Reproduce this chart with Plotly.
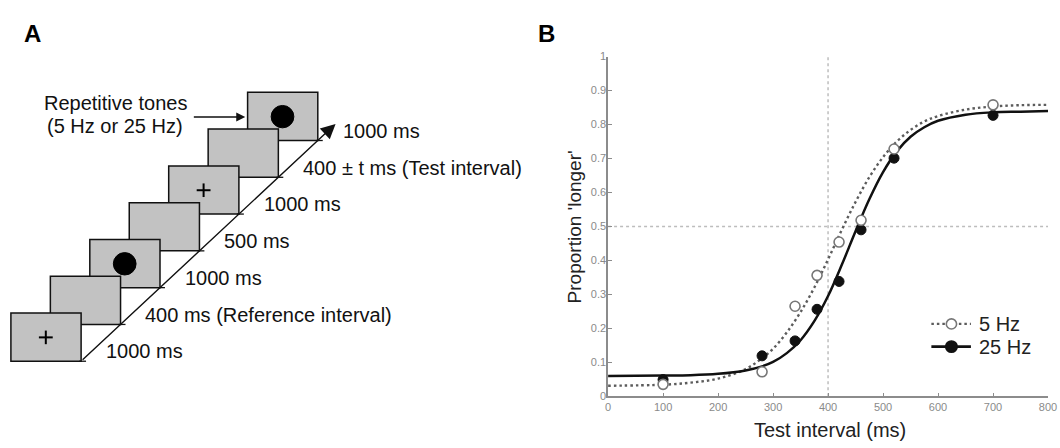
import plotly.graph_objects as go

W, H = 1060, 448
FONT = "Liberation Sans, Arial, sans-serif"

# ---------------- Panel B data ----------------
test_ms = [100, 280, 340, 380, 420, 460, 520, 700]
p_5hz = [0.035, 0.072, 0.265, 0.356, 0.454, 0.518, 0.728, 0.858]
p_25hz = [0.049, 0.119, 0.163, 0.256, 0.338, 0.490, 0.701, 0.827]

fit_ms = [0, 100, 150, 200, 250, 280, 300, 325, 350, 375, 400, 425, 450,
          475, 500, 525, 550, 575, 600, 650, 700, 750, 800]
fit_5hz = [0.031, 0.034, 0.040, 0.052, 0.080, 0.112, 0.140, 0.188, 0.248,
           0.320, 0.403, 0.490, 0.572, 0.645, 0.704, 0.750, 0.784, 0.809,
           0.825, 0.844, 0.853, 0.857, 0.858]
fit_25hz = [0.060, 0.061, 0.062, 0.066, 0.076, 0.088, 0.101, 0.127, 0.165,
            0.221, 0.295, 0.387, 0.486, 0.580, 0.660, 0.721, 0.764, 0.792,
            0.811, 0.829, 0.836, 0.838, 0.840]

ref_interval = 400
ref_prop = 0.5
x_ticks = [0, 100, 200, 300, 400, 500, 600, 700, 800]
y_ticks = [0, 0.1, 0.2, 0.3, 0.4, 0.5, 0.6, 0.7, 0.8, 0.9, 1]
y_tick_text = ["0", "0.1", "0.2", "0.3", "0.4", "0.5", "0.6", "0.7", "0.8", "0.9", "1"]
series_names = ["5 Hz", "25 Hz"]

# ---------------- Panel A content ----------------
durations = ["1000 ms", "400 ms (Reference interval)", "1000 ms", "500 ms",
             "1000 ms", "400 \u00b1 t ms (Test interval)", "1000 ms"]
screen_content = ["cross", "", "dot", "", "cross", "", "dot"]
tone_note = ["Repetitive tones", "(5 Hz or 25 Hz)"]


def px(x):
    return x / W


def py(y):
    return 1 - y / H


DOTTED = "2.5px,3px"
DOT_COLOR = "#5c5c5c"

fig = go.Figure()

# ---- Panel B traces ----
fig.add_trace(go.Scatter(x=fit_ms, y=fit_5hz, mode="lines", line_shape="spline",
                         line=dict(color=DOT_COLOR, width=2.4, dash=DOTTED),
                         showlegend=False, hoverinfo="skip"))
fig.add_trace(go.Scatter(x=fit_ms, y=fit_25hz, mode="lines", line_shape="spline",
                         line=dict(color="#111111", width=2.5),
                         showlegend=False, hoverinfo="skip"))
fig.add_trace(go.Scatter(x=test_ms, y=p_25hz, mode="markers", name=series_names[1],
                         marker=dict(size=10, color="#111111",
                                     line=dict(color="#111111", width=1)),
                         showlegend=False))
fig.add_trace(go.Scatter(x=test_ms, y=p_5hz, mode="markers", name=series_names[0],
                         marker=dict(size=10, color="white",
                                     line=dict(color="#777777", width=1.6)),
                         showlegend=False))

# anchor trace for the schematic (pixel) axes
fig.add_trace(go.Scatter(x=[None], y=[None], xaxis="x2", yaxis="y2",
                         showlegend=False, hoverinfo="skip"))

shapes = []
annotations = []

# reference lines
shapes.append(dict(type="line", xref="x", yref="y", x0=ref_interval, x1=ref_interval,
                   y0=0, y1=1, layer="below",
                   line=dict(color="#bdbdbd", width=1.5, dash="dot")))
shapes.append(dict(type="line", xref="x", yref="y", x0=0, x1=800,
                   y0=ref_prop, y1=ref_prop, layer="below",
                   line=dict(color="#bdbdbd", width=1.5, dash="dot")))

# ---- Panel A schematic (pixel coordinates on x2/y2) ----
left0, bottom0 = 8.0, 365.0
step_x, step_y = 39.9, 37.8
bw, bh = 71.0, 49.5
n = len(durations)
for i in reversed(range(n)):
    l = left0 + step_x * i
    b = bottom0 - step_y * i
    t = b - bh
    r = l + bw
    shapes.append(dict(type="rect", xref="x2", yref="y2", x0=l, x1=r, y0=t, y1=b,
                       fillcolor="#c2c2c2", line=dict(color="#111111", width=1.5),
                       layer="above"))
    cx, cy = l + 35.3, t + 25
    if screen_content[i] == "dot":
        shapes.append(dict(type="circle", xref="x2", yref="y2",
                           x0=cx - 11.5, x1=cx + 11.5, y0=cy - 11.5, y1=cy + 11.5,
                           fillcolor="black", line=dict(color="black", width=1),
                           layer="above"))
    elif screen_content[i] == "cross":
        shapes.append(dict(type="line", xref="x2", yref="y2", x0=cx - 7, x1=cx + 7,
                           y0=cy, y1=cy, line=dict(color="black", width=2), layer="above"))
        shapes.append(dict(type="line", xref="x2", yref="y2", x0=cx, x1=cx,
                           y0=cy - 7, y1=cy + 7, line=dict(color="black", width=2),
                           layer="above"))
    # small tick at the corner on the time line
    shapes.append(dict(type="line", xref="x2", yref="y2", x0=r - 2, x1=r + 5,
                       y0=b, y1=b, line=dict(color="#111111", width=1.3), layer="above"))
    annotations.append(dict(xref="x2", yref="y2", x=r + 23, y=b - 10, text=durations[i],
                            showarrow=False, xanchor="left", yanchor="middle",
                            font=dict(family=FONT, size=20, color="#111111")))

# time-line arrow
c0x, c0y = left0 + bw, bottom0
tipx = left0 + bw + step_x * (n - 1 + 0.45)
tipy = bottom0 - step_y * (n - 1 + 0.45)
annotations.append(dict(xref="x2", yref="y2", axref="x2", ayref="y2",
                        x=tipx, y=tipy, ax=c0x, ay=c0y, text="", showarrow=True,
                        arrowhead=2, arrowsize=2.1, arrowwidth=1.4, arrowcolor="#111111",
                        standoff=0, startstandoff=0))

# repetitive tones note + arrow
annotations.append(dict(xref="x2", yref="y2", x=114, y=99.5, text=tone_note[0],
                        showarrow=False, xanchor="center", yanchor="middle",
                        font=dict(family=FONT, size=20, color="#111111")))
annotations.append(dict(xref="x2", yref="y2", x=113, y=123.5, text=tone_note[1],
                        showarrow=False, xanchor="center", yanchor="middle",
                        font=dict(family=FONT, size=20, color="#111111")))
annotations.append(dict(xref="x2", yref="y2", axref="x2", ayref="y2",
                        x=245, y=114, ax=191.5, ay=114, text="", showarrow=True,
                        arrowhead=2, arrowsize=1.2, arrowwidth=1.5, arrowcolor="#111111",
                        standoff=0, startstandoff=0))

# panel labels
annotations.append(dict(xref="paper", yref="paper", x=px(30), y=py(28.5), text="<b>A</b>",
                        showarrow=False, xanchor="center", yanchor="middle",
                        font=dict(family=FONT, size=24, color="#000000")))
annotations.append(dict(xref="paper", yref="paper", x=px(550), y=py(28.5), text="<b>B</b>",
                        showarrow=False, xanchor="center", yanchor="middle",
                        font=dict(family=FONT, size=24, color="#000000")))

# axis titles for panel B
annotations.append(dict(xref="paper", yref="paper", x=px(577.5), y=py(226.5),
                        text="Proportion 'longer'", textangle=-90, showarrow=False,
                        xanchor="center", yanchor="middle",
                        font=dict(family=FONT, size=19, color="#222222")))
annotations.append(dict(xref="paper", yref="paper", x=px(836), y=py(436),
                        text="Test interval (ms)", showarrow=False,
                        xanchor="center", yanchor="middle",
                        font=dict(family=FONT, size=20, color="#222222")))

# manual legend for panel B
leg_rows = [326.7, 350.0]
leg_styles = [
    dict(line=dict(color=DOT_COLOR, width=2.2, dash=DOTTED), fill="white",
         edge="#777777", r=5.2),
    dict(line=dict(color="#111111", width=2.6), fill="#111111",
         edge="#111111", r=5.8),
]
for name, yrow, st in zip(series_names, leg_rows, leg_styles):
    shapes.append(dict(type="line", xref="x2", yref="y2", x0=939, x1=979, y0=yrow, y1=yrow,
                       line=st["line"], layer="above"))
    shapes.append(dict(type="circle", xref="x2", yref="y2",
                       x0=959.3 - st["r"], x1=959.3 + st["r"],
                       y0=yrow - st["r"], y1=yrow + st["r"],
                       fillcolor=st["fill"], line=dict(color=st["edge"], width=1.6),
                       layer="above"))
    annotations.append(dict(xref="x2", yref="y2", x=985, y=yrow, text=name,
                            showarrow=False, xanchor="left", yanchor="middle",
                            font=dict(family=FONT, size=20, color="#222222")))

axis_common = dict(showgrid=False, zeroline=False, showline=True, linecolor="#8c8c8c",
                   linewidth=1.5, ticks="inside", ticklen=4, tickwidth=1.2,
                   tickcolor="#8c8c8c", ticklabeloverflow="allow",
                   tickfont=dict(family=FONT, size=11, color="#8a8a8a"))

fig.update_layout(
    width=W, height=H, autosize=False,
    margin=dict(l=0, r=0, t=0, b=0),
    paper_bgcolor="white", plot_bgcolor="rgba(0,0,0,0)",
    showlegend=False,
    xaxis=dict(domain=[px(612), px(1057)], range=[0, 800], tickvals=x_ticks,
               anchor="y", **axis_common),
    yaxis=dict(domain=[py(401), py(52)], range=[0, 1], tickvals=y_ticks,
               ticktext=y_tick_text, anchor="x", ticklabelstandoff=-2, **axis_common),
    xaxis2=dict(domain=[0, 1], range=[0, W], visible=False, anchor="y2", fixedrange=True),
    yaxis2=dict(domain=[0, 1], range=[H, 0], visible=False, anchor="x2", fixedrange=True),
    shapes=shapes,
    annotations=annotations,
)

fig.write_html("out.html",
               config={"displayModeBar": False},
               post_script="document.body.style.margin='0px';"
                           "document.body.style.overflow='hidden';")
